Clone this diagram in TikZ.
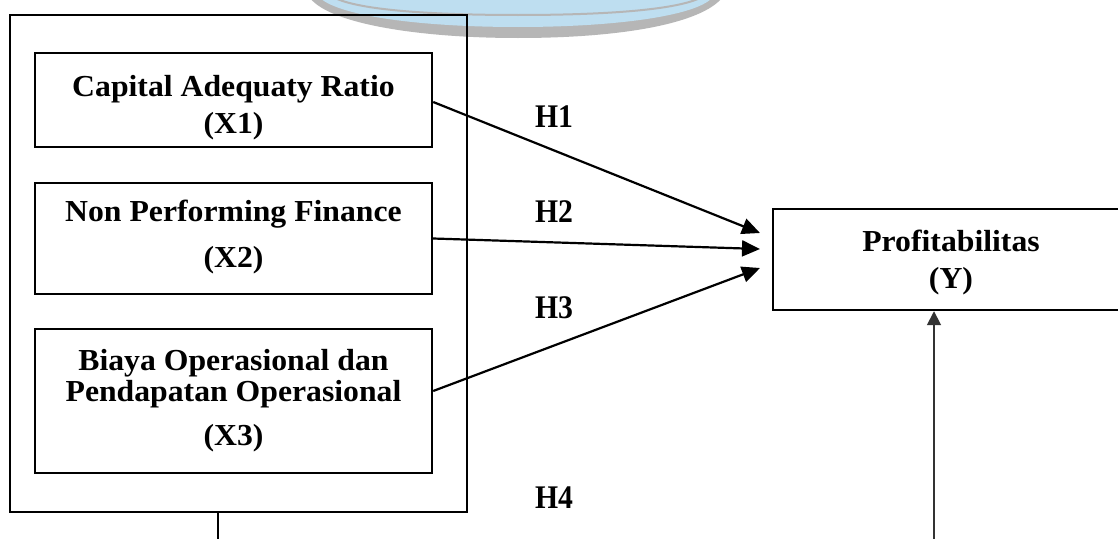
\documentclass[tikz,border=0pt]{standalone}
\usepackage{fontspec}
\newfontfamily\tnr{Liberation Serif}[FakeStretch=1.04]
\newfontfamily\hfont{Liberation Serif}[FakeStretch=0.9]
\usetikzlibrary{arrows.meta}
\definecolor{wmblue}{RGB}{190,222,240}
\definecolor{wmgray}{RGB}{182,182,182}
\begin{document}
\begin{tikzpicture}[x=1pt,y=-1pt,
  box/.style={draw, line width=2.4pt, inner sep=0pt},
  lbl/.style={font=\tnr\bfseries\fontsize{30.5}{33}\selectfont, inner sep=0pt, anchor=base},
  hlbl/.style={font=\hfont\bfseries\fontsize{33}{36}\selectfont, inner sep=0pt, anchor=base},
  conn/.style={line width=2.2pt, -{Triangle[length=18pt,width=16pt]}},
  thin conn/.style={line width=1.7pt, draw=black!80, -{Triangle[length=14pt,width=14pt]}},
  plain/.style={line width=1.8pt},
]
\useasboundingbox (0,0) rectangle (1118,538);
\fill[white] (0,0) rectangle (1118,538);
\clip (0,0) rectangle (1118,538);

% watermark
\fill[wmgray] (310,-2) .. controls (330,24) and (420,38) .. (518,38)
  .. controls (620,38) and (700,24) .. (722,-2) -- cycle;
\fill[wmblue] (320,-2) .. controls (340,16) and (420,27) .. (518,27)
  .. controls (615,27) and (695,16) .. (712,-2) -- cycle;
\draw[wmgray, line width=2pt] (335,-2) .. controls (360,10) and (430,15) .. (518,15)
  .. controls (605,15) and (675,10) .. (700,-2);

% boxes
\node[box, minimum width=457pt, minimum height=497pt] (outer) at (238.5,263.5) {};
\node[box, minimum width=397pt, minimum height=94pt] (X1) at (233.5,100) {};
\node[box, minimum width=397pt, minimum height=111pt] (X2) at (233.5,238.5) {};
\node[box, minimum width=397pt, minimum height=144pt] (X3) at (233.5,401) {};
\node[box, minimum width=356pt, minimum height=101pt] (Y) at (951,259.5) {};

% box texts
\node[lbl] (t1a) at (233.5,96.5) {Capital Adequaty Ratio};
\node[lbl] (t1b) at (233.5,133) {(X1)};
\node[lbl] (t2a) at (233.5,221.7) {Non Performing Finance};
\node[lbl] (t2b) at (233.5,267) {(X2)};
\node[lbl] (t3a) at (233.5,370) {Biaya Operasional dan};
\node[lbl] (t3b) at (233.5,401.7) {Pendapatan Operasional};
\node[lbl] (t3c) at (233.5,445) {(X3)};
\node[lbl] (tya) at (951,251) {Profitabilitas};
\node[lbl] (tyb) at (951,288) {(Y)};

% hypothesis labels
\node[hlbl] (H1) at (554,127.7) {H1};
\node[hlbl] (H2) at (554,222.7) {H2};
\node[hlbl] (H3) at (554,318) {H3};
\node[hlbl] (H4) at (554,508) {H4};

% arrow end points
\coordinate (e1) at (760,233);
\coordinate (e2) at (760,249);
\coordinate (e3) at (760,268);
\coordinate (b1) at (218,545);
\coordinate (b2) at (934,545);

\draw[conn] ([yshift=-2pt]X1.east) -- (e1);
\draw[conn] (X2.east) -- (e2);
\draw[conn] ([yshift=10pt]X3.east) -- (e3);
\draw[plain] (outer.south -| b1) -- (b1);
\draw[thin conn] (b2) -- (b2 |- Y.south);
\end{tikzpicture}
\end{document}
